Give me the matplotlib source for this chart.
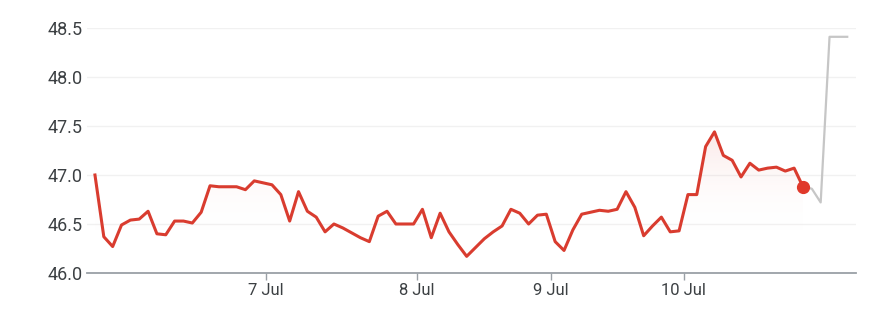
import numpy as np
import matplotlib
matplotlib.use('Agg')
import matplotlib.pyplot as plt
from matplotlib.patches import Polygon

plt.rcParams['font.family'] = ['Roboto', 'DejaVu Sans']

# trading session prices (red), then the grey tail after the last point
price = [47.00, 46.37, 46.27, 46.49, 46.54, 46.55, 46.63, 46.40, 46.39, 46.53,
         46.53, 46.51, 46.62, 46.89, 46.88, 46.88, 46.88, 46.85, 46.94, 46.92,
         46.90, 46.80, 46.53, 46.83, 46.63, 46.57, 46.42, 46.50, 46.46, 46.41,
         46.36, 46.32, 46.58, 46.63, 46.50, 46.50, 46.50, 46.65, 46.36, 46.61,
         46.42, 46.29, 46.17, 46.26, 46.35, 46.42, 46.48, 46.65, 46.61, 46.50,
         46.59, 46.60, 46.32, 46.23, 46.44, 46.60, 46.62, 46.64, 46.63, 46.65,
         46.83, 46.67, 46.38, 46.48, 46.57, 46.42, 46.43, 46.80, 46.80, 47.29,
         47.44, 47.20, 47.15, 46.98, 47.12, 47.05, 47.07, 47.08, 47.04, 47.07,
         46.88]
tail = [46.88, 46.86, 46.72, 48.41, 48.41, 48.41]

date_pos = [19.3, 36.35, 51.5, 66.5]
date_labels = ['7 Jul', '8 Jul', '9 Jul', '10 Jul']
y_ticks = [46.0, 46.5, 47.0, 47.5, 48.0, 48.5]

RED = '#d93c2f'
TEXT = '#3c4043'

fig = plt.figure(figsize=(8.7, 3.18), dpi=100)
ax = fig.add_axes([0.1, 0.1415, 0.884, 0.7705])

x = np.arange(len(price))
xt = np.arange(len(price) - 1, len(price) - 1 + len(tail))

ax.set_xlim(-0.9, 86)
ax.set_ylim(46.0, 48.5)

# faint gradient fill under the red line
grad = np.linspace(0, 1, 256).reshape(-1, 1)
cmap = matplotlib.colors.LinearSegmentedColormap.from_list(
    'fade', [(1, 1, 1, 0), (0.85, 0.19, 0.15, 0.12)])
img = ax.imshow(grad, extent=[x[0], x[-1], 46.4, 47.5], origin='lower',
                aspect='auto', cmap=cmap, zorder=1)
verts = [(x[0], 46.0)] + list(zip(x, price)) + [(x[-1], 46.0)]
clip = Polygon(verts, closed=True, transform=ax.transData, facecolor='none',
               edgecolor='none')
ax.add_patch(clip)
img.set_clip_path(clip)
ax.set_xlim(-0.9, 86)
ax.set_ylim(46.0, 48.5)

ax.plot(xt, tail, color='#c6c6c6', lw=1.6, zorder=2)
ax.plot(x, price, color=RED, lw=2.2, zorder=3)
ax.plot(x[-1], price[-1], 'o', color='#e0392b', ms=8.5, zorder=4)

ax.set_yticks(y_ticks)
ax.set_yticklabels([f'{v:.1f}' for v in y_ticks])
ax.set_xticks(date_pos)
ax.set_xticklabels(date_labels)
ax.grid(axis='y', color='#f1f1f1', lw=1.0, zorder=0)
ax.set_axisbelow(True)

for s in ['top', 'right', 'left']:
    ax.spines[s].set_visible(False)
ax.spines['bottom'].set_color('#9aa0a6')
ax.spines['bottom'].set_linewidth(1.3)
ax.spines['bottom'].set_zorder(5)

ax.tick_params(axis='y', length=0, pad=3, labelsize=13, labelcolor=TEXT)
ax.tick_params(axis='x', length=5, width=1, color='#9aa0a6', pad=2,
               labelsize=12, labelcolor=TEXT)

fig.savefig('out.png', dpi=100, facecolor='white')
